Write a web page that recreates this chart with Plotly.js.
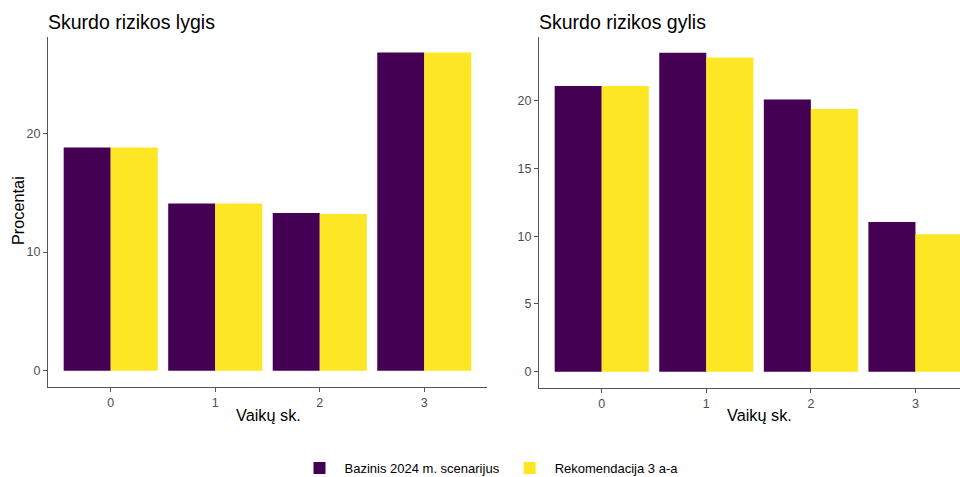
<!DOCTYPE html>
<html>
<head>
<meta charset="utf-8">
<script src="https://cdn.plot.ly/plotly-3.0.1.min.js"></script>
<style>html,body{margin:0;padding:0;background:#fff;}</style>
</head>
<body>
<div id="chart" style="width:960px;height:477px;"></div>
<script>
const categories = ["0", "1", "2", "3"];
const seriesNames = ["Bazinis 2024 m. scenarijus", "Rekomendacija 3 a-a"];
const lygisBase = [18.8, 14.1, 13.3, 26.8];
const lygisRek = [18.8, 14.1, 13.2, 26.8];
const gylisBase = [21.1, 23.55, 20.1, 11.05];
const gylisRek = [21.1, 23.2, 19.4, 10.15];
const panelTitles = ["Skurdo rizikos lygis", "Skurdo rizikos gylis"];
const xTitle = "Vaikų sk.";
const yTitle = "Procentai";

const purple = "#440154", yellow = "#FDE725";
const FONT = "Liberation Sans, Arial, sans-serif";
const catIdx = categories.map((c, i) => i);

const traces = [
  {type: "bar", x: catIdx, y: lygisBase, name: seriesNames[0], marker: {color: purple}, xaxis: "x", yaxis: "y", legendgroup: "a", hoverinfo: "y"},
  {type: "bar", x: catIdx, y: lygisRek, name: seriesNames[1], marker: {color: yellow}, xaxis: "x", yaxis: "y", legendgroup: "b", hoverinfo: "y"},
  {type: "bar", x: catIdx, y: gylisBase, name: seriesNames[0], marker: {color: purple}, xaxis: "x2", yaxis: "y2", legendgroup: "a", showlegend: false, hoverinfo: "y"},
  {type: "bar", x: catIdx, y: gylisRek, name: seriesNames[1], marker: {color: yellow}, xaxis: "x2", yaxis: "y2", legendgroup: "b", showlegend: false, hoverinfo: "y"}
];

const W = 960, H = 477;
const px = v => v / W, py = v => 1 - v / H;

const axisCommon = {
  showgrid: false, zeroline: false, showline: true, linecolor: "#555", linewidth: 1,
  ticks: "outside", ticklen: 4, tickcolor: "#555", tickwidth: 1,
  tickfont: {family: FONT, size: 12.5, color: "#4d4d4d"}, automargin: false, fixedrange: true
};

const layout = {
  width: W, height: H,
  margin: {l: 0, r: 0, t: 0, b: 0, autoexpand: false},
  paper_bgcolor: "#fff", plot_bgcolor: "#fff",
  font: {family: FONT, color: "#000"},
  barmode: "group", bargap: 0.1, bargroupgap: 0,
  showlegend: true,
  legend: {orientation: "h", x: px(489), xanchor: "center", y: py(468), yanchor: "middle",
           font: {family: FONT, size: 13, color: "#000"}, itemwidth: 40, traceorder: "normal"},
  xaxis: Object.assign({}, axisCommon, {domain: [px(48), px(487)], range: [-0.6, 3.6], anchor: "y",
           tickvals: catIdx, ticktext: categories}),
  yaxis: Object.assign({}, axisCommon, {domain: [py(386.7), py(36.7)], range: [-1.34, 28.14], anchor: "x",
           tickvals: [0, 10, 20]}),
  xaxis2: Object.assign({}, axisCommon, {domain: [px(539), 1], range: [-0.6, 3.426], anchor: "y2",
           tickvals: catIdx, ticktext: categories}),
  yaxis2: Object.assign({}, axisCommon, {domain: [py(387.7), py(36.7)], range: [-1.18, 24.73], anchor: "x2",
           tickvals: [0, 5, 10, 15, 20]}),
  annotations: [
    {text: panelTitles[0], xref: "paper", yref: "paper", x: px(46), y: py(22), xanchor: "left", yanchor: "middle", showarrow: false, font: {family: FONT, size: 19.5, color: "#000"}},
    {text: panelTitles[1], xref: "paper", yref: "paper", x: px(537), y: py(22), xanchor: "left", yanchor: "middle", showarrow: false, font: {family: FONT, size: 19.5, color: "#000"}},
    {text: xTitle, xref: "paper", yref: "paper", x: px(268), y: py(415), xanchor: "center", yanchor: "middle", showarrow: false, font: {family: FONT, size: 16.3, color: "#000"}},
    {text: xTitle, xref: "paper", yref: "paper", x: px(759), y: py(415), xanchor: "center", yanchor: "middle", showarrow: false, font: {family: FONT, size: 16.3, color: "#000"}},
    {text: yTitle, xref: "paper", yref: "paper", x: px(18), y: py(211), xanchor: "center", yanchor: "middle", textangle: -90, showarrow: false, font: {family: FONT, size: 16.3, color: "#000"}}
  ]
};

Plotly.newPlot("chart", traces, layout, {displayModeBar: false, staticPlot: true});
</script>
</body>
</html>
